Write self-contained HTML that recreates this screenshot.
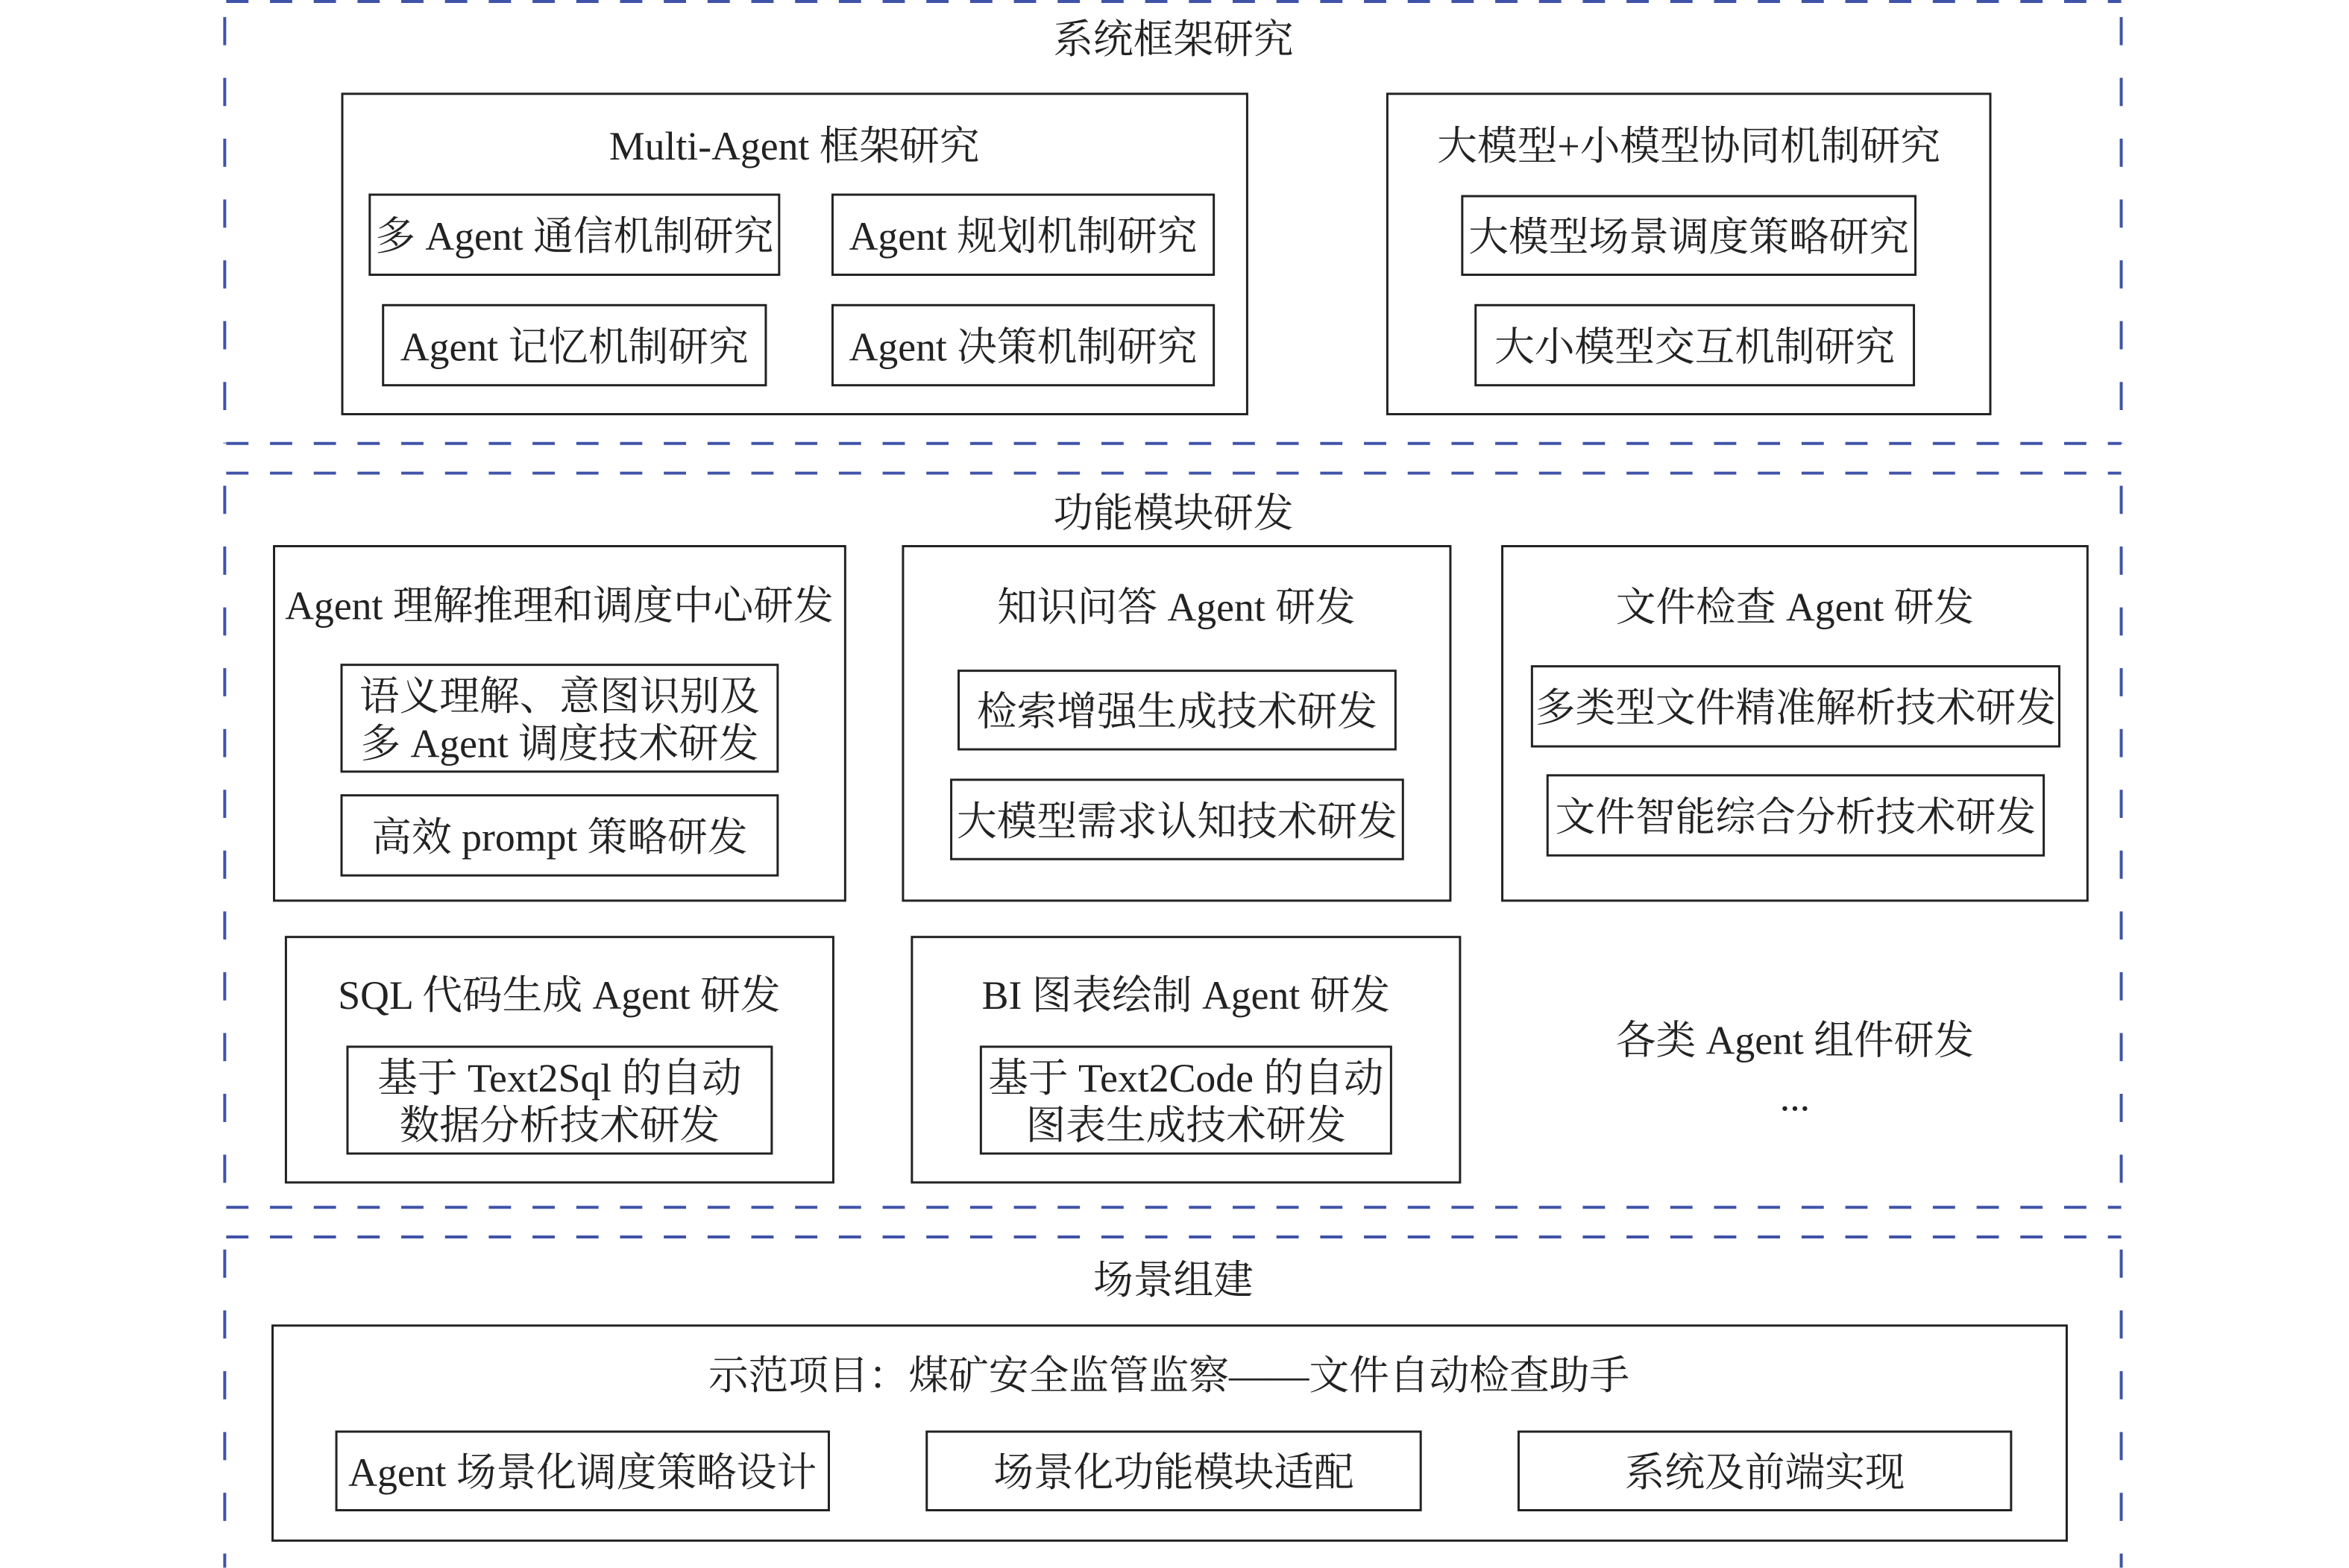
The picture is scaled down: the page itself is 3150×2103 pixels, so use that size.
<!DOCTYPE html>
<html><head><meta charset="utf-8"><style>
html,body{margin:0;padding:0;background:#fff}
body{width:3150px;height:2102px;position:relative;overflow:hidden;font-family:"Liberation Serif","Noto Serif CJK SC",serif;color:#222}
#w{position:absolute;left:0;top:0;width:3150px;height:2114px;transform:scale(0.9946);transform-origin:0 0}
.b{position:absolute;border:3.5px solid #222;box-sizing:border-box;display:flex;align-items:center;justify-content:center;text-align:center;font-size:54px;line-height:64px;white-space:nowrap;padding-top:5px}
.bo{position:absolute;border:3.5px solid #222;box-sizing:border-box}
.t{position:absolute;font-size:54px;line-height:64px;white-space:nowrap;transform:translate(-50%,-45%)}
svg{position:absolute;left:0;top:0}
</style></head><body><div id="w">
<svg width="3150" height="2114">
<g stroke="#4053a8" stroke-width="4" fill="none">
<g stroke-dasharray="30 29">
<line x1="305" y1="2" x2="2860" y2="2"/><line x1="305" y1="598" x2="2860" y2="598"/>
<line x1="305" y1="638" x2="2860" y2="638"/><line x1="305" y1="1628" x2="2860" y2="1628"/>
<line x1="305" y1="1668" x2="2860" y2="1668"/>
</g>
<g stroke-dasharray="38 44">
<line x1="303" y1="23" x2="303" y2="598"/><line x1="2860" y1="23" x2="2860" y2="598"/>
<line x1="303" y1="655" x2="303" y2="1628"/><line x1="2860" y1="655" x2="2860" y2="1628"/>
<line x1="303" y1="1685" x2="303" y2="2114"/><line x1="2860" y1="1685" x2="2860" y2="2114"/>
</g></g></svg>

<div class="t" style="left:1582px;top:50px">系统框架研究</div>
<div class="bo" style="left:460px;top:125px;width:1223px;height:435px"></div>
<div class="t" style="left:1071px;top:194px">Multi-Agent 框架研究</div>
<div class="b" style="left:497px;top:261px;width:555px;height:111px">多 Agent 通信机制研究</div>
<div class="b" style="left:1121px;top:261px;width:517px;height:111px">Agent 规划机制研究</div>
<div class="b" style="left:515px;top:410px;width:519px;height:111px">Agent 记忆机制研究</div>
<div class="b" style="left:1121px;top:410px;width:517px;height:111px">Agent 决策机制研究</div>
<div class="bo" style="left:1869px;top:125px;width:816px;height:435px"></div>
<div class="t" style="left:2277px;top:194px">大模型+小模型协同机制研究</div>
<div class="b" style="left:1970px;top:263px;width:614px;height:109px">大模型场景调度策略研究</div>
<div class="b" style="left:1988px;top:410px;width:594px;height:111px">大小模型交互机制研究</div>

<div class="t" style="left:1582px;top:689px">功能模块研发</div>
<div class="bo" style="left:368px;top:735px;width:773px;height:481px"></div>
<div class="t" style="left:754px;top:814px">Agent 理解推理和调度中心研发</div>
<div class="b" style="left:459px;top:895px;width:591px;height:147px">语义理解、意图识别及<br>多 Agent 调度技术研发</div>
<div class="b" style="left:459px;top:1071px;width:591px;height:111px">高效 prompt 策略研发</div>
<div class="bo" style="left:1216px;top:735px;width:741px;height:481px"></div>
<div class="t" style="left:1586px;top:816px">知识问答 Agent 研发</div>
<div class="b" style="left:1291px;top:903px;width:592px;height:109px">检索增强生成技术研发</div>
<div class="b" style="left:1281px;top:1050px;width:612px;height:110px">大模型需求认知技术研发</div>
<div class="bo" style="left:2024px;top:735px;width:792px;height:481px"></div>
<div class="t" style="left:2420px;top:816px">文件检查 Agent 研发</div>
<div class="b" style="left:2064px;top:897px;width:714px;height:111px">多类型文件精准解析技术研发</div>
<div class="b" style="left:2085px;top:1044px;width:672px;height:111px">文件智能综合分析技术研发</div>
<div class="bo" style="left:384px;top:1262px;width:741px;height:334px"></div>
<div class="t" style="left:754px;top:1339px">SQL 代码生成 Agent 研发</div>
<div class="b" style="left:467px;top:1410px;width:575px;height:147px">基于 Text2Sql 的自动<br>数据分析技术研发</div>
<div class="bo" style="left:1228px;top:1262px;width:742px;height:334px"></div>
<div class="t" style="left:1599px;top:1339px">BI 图表绘制 Agent 研发</div>
<div class="b" style="left:1321px;top:1410px;width:556px;height:147px">基于 Text2Code 的自动<br>图表生成技术研发</div>
<div class="t" style="left:2420px;top:1400px">各类 Agent 组件研发</div>
<div class="t" style="left:2420px;top:1476px">...</div>

<div class="t" style="left:1582px;top:1723px">场景组建</div>
<div class="bo" style="left:366px;top:1786px;width:2422px;height:293px"></div>
<div class="t" style="left:1576px;top:1852px">示范项目：煤矿安全监管监察——文件自动检查助手</div>
<div class="b" style="left:452px;top:1929px;width:667px;height:109px">Agent 场景化调度策略设计</div>
<div class="b" style="left:1248px;top:1929px;width:669px;height:109px">场景化功能模块适配</div>
<div class="b" style="left:2046px;top:1929px;width:667px;height:109px">系统及前端实现</div>
</div></body></html>
